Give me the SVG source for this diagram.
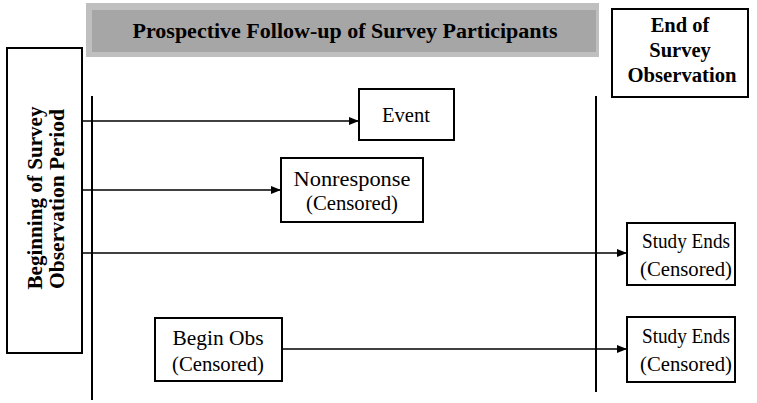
<svg xmlns="http://www.w3.org/2000/svg" width="757" height="403" viewBox="0 0 757 403">
<style>
.box{fill:#fff;stroke:#000;stroke-width:2}
.t{font-family:"Liberation Serif","Times New Roman",serif;font-size:21.5px;fill:#000;text-anchor:middle}
.b{font-weight:bold;font-size:20.5px}
.ln{stroke:#000;stroke-width:1.4;fill:none}
.ax{stroke:#000;stroke-width:2;fill:none}
</style>
<defs>
<marker id="ah" markerWidth="10" markerHeight="8" refX="10" refY="4" orient="auto" markerUnits="userSpaceOnUse">
<path d="M0,0 L10,4 L0,8 Z" fill="#000"/>
</marker>
</defs>
<rect width="757" height="403" fill="#fff"/>
<g id="title">
<rect x="86" y="3" width="513" height="54" fill="#bfbfbf"/>
<rect x="92" y="10" width="504" height="42" fill="#a6a6a6"/>
<text class="t b" x="345" y="38" textLength="425" lengthAdjust="spacingAndGlyphs">Prospective Follow-up of Survey Participants</text>
</g>
<g id="begin-period">
<rect class="box" x="7" y="48" width="75" height="305"/>
<text class="t b" transform="translate(42,198) rotate(-90)" textLength="183" lengthAdjust="spacingAndGlyphs">Beginning of Survey</text>
<text class="t b" transform="translate(64,199) rotate(-90)" textLength="180" lengthAdjust="spacingAndGlyphs">Observation Period</text>
</g>
<g id="end-observation">
<rect class="box" x="612" y="9" width="136" height="88"/>
<text class="t b" x="680" y="32">End of</text>
<text class="t b" x="680" y="57">Survey</text>
<text class="t b" x="682" y="82" textLength="109" lengthAdjust="spacingAndGlyphs">Observation</text>
</g>
<g id="timelines">
<line class="ax" x1="92" y1="96" x2="92" y2="400"/>
<line class="ax" x1="596" y1="96" x2="596" y2="392"/>
</g>
<g id="event">
<rect class="box" x="359" y="89" width="95" height="51"/>
<text class="t" x="406" y="122" textLength="48" lengthAdjust="spacingAndGlyphs">Event</text>
</g>
<g id="nonresponse">
<rect class="box" x="281" y="158" width="142" height="64"/>
<text class="t" x="352" y="186" textLength="117" lengthAdjust="spacingAndGlyphs">Nonresponse</text>
<text class="t" x="352" y="210" textLength="92" lengthAdjust="spacingAndGlyphs">(Censored)</text>
</g>
<g id="study-ends-1">
<rect class="box" x="627" y="223" width="108" height="62"/>
<text class="t" x="686" y="248" textLength="88" lengthAdjust="spacingAndGlyphs">Study Ends</text>
<text class="t" x="686" y="276" textLength="92" lengthAdjust="spacingAndGlyphs">(Censored)</text>
</g>
<g id="begin-obs">
<rect class="box" x="155" y="318" width="127" height="63"/>
<text class="t" x="218" y="345" textLength="91" lengthAdjust="spacingAndGlyphs">Begin Obs</text>
<text class="t" x="218" y="371" textLength="92" lengthAdjust="spacingAndGlyphs">(Censored)</text>
</g>
<g id="study-ends-2">
<rect class="box" x="627" y="317" width="108" height="65"/>
<text class="t" x="686" y="343" textLength="88" lengthAdjust="spacingAndGlyphs">Study Ends</text>
<text class="t" x="686" y="371" textLength="92" lengthAdjust="spacingAndGlyphs">(Censored)</text>
</g>
<g id="connectors">
<line class="ln" x1="82" y1="121" x2="359" y2="121" marker-end="url(#ah)"/>
<line class="ln" x1="82" y1="190" x2="281" y2="190" marker-end="url(#ah)"/>
<line class="ln" x1="82" y1="253" x2="627" y2="253" marker-end="url(#ah)"/>
<line class="ln" x1="282" y1="349" x2="627" y2="349" marker-end="url(#ah)"/>
</g>
</svg>
